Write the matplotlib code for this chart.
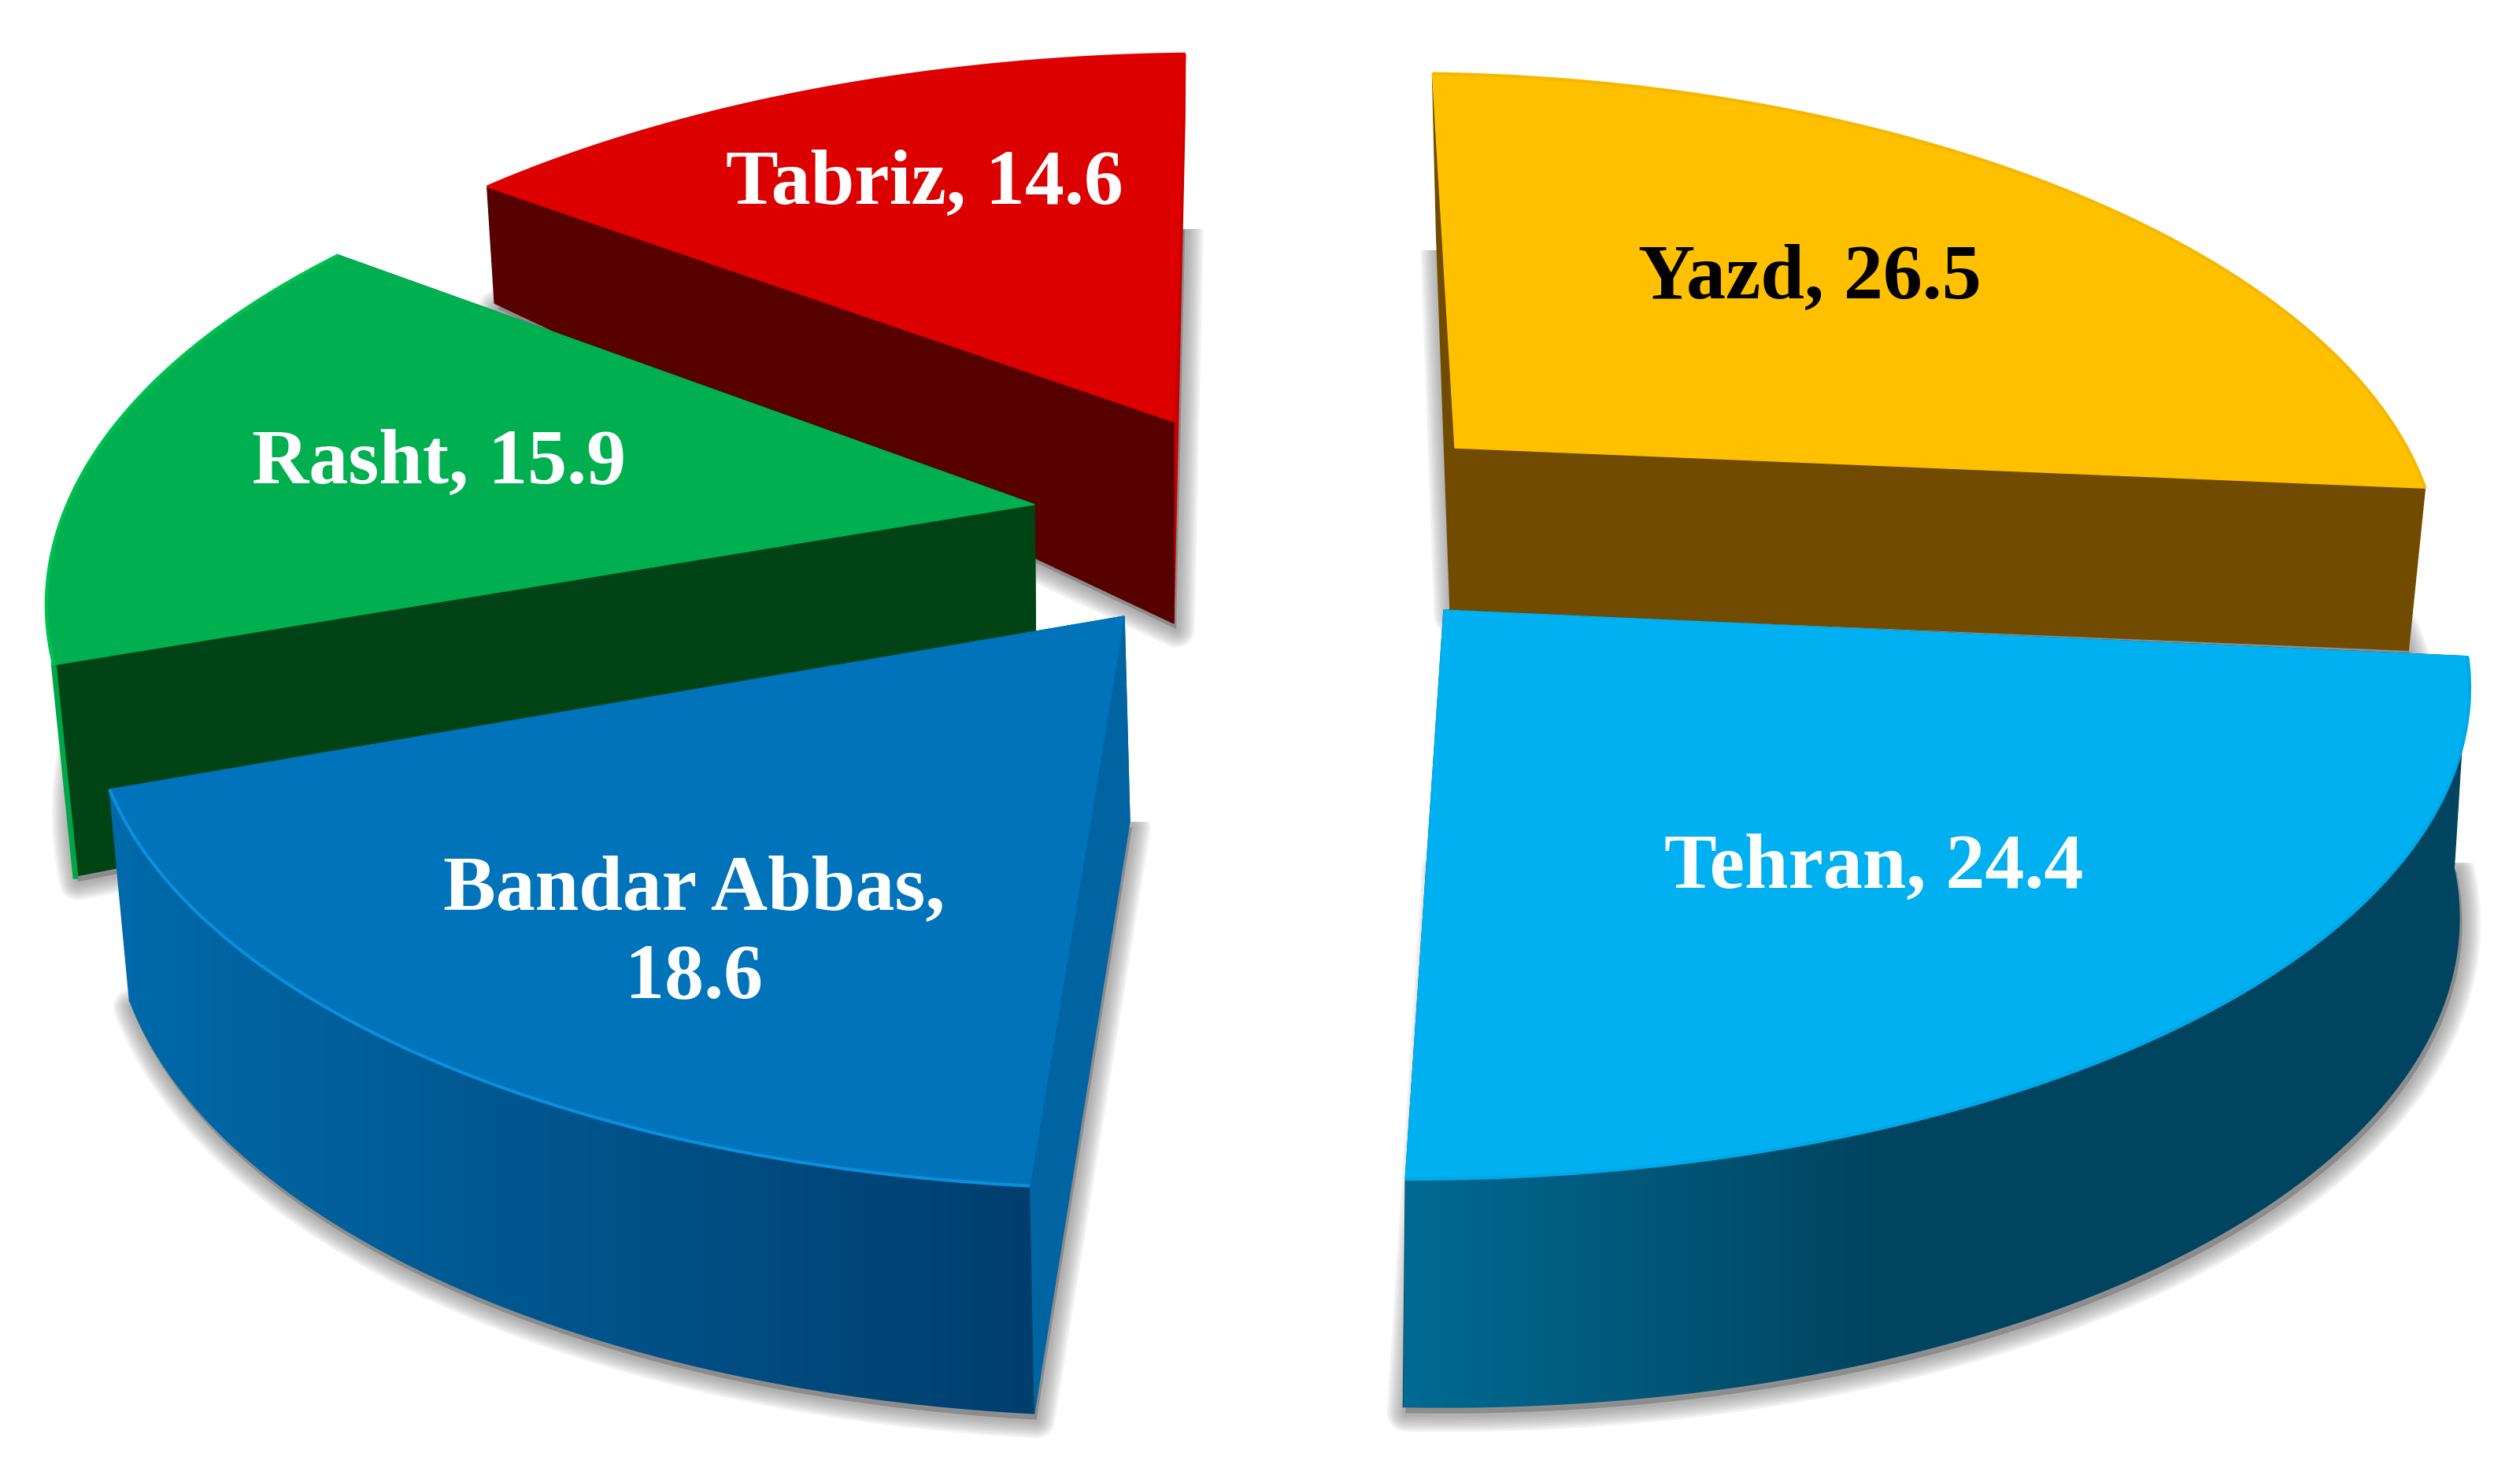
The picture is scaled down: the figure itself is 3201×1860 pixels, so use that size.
import numpy as np
import matplotlib
matplotlib.use("Agg")
import matplotlib.pyplot as plt
from matplotlib.colors import LinearSegmentedColormap
from matplotlib.patches import Polygon, Rectangle

# clockwise from the top
cities = ["Yazd", "Tehran", "Bandar Abbas", "Rasht", "Tabriz"]
values = [26.5, 24.4, 18.6, 15.9, 14.6]

start_angle = -1.0
radius_x = 1266.0
radius_y = 574.0
persp = 0.2075

# pixel layout of each slice: top apex, bottom apex
top_apex = [(1848, 569), (1834, 775), (1428, 783), (1314, 641), (1491, 536)]
bottom_apex = [(1842, 775), (1830, 1040), (1435, 1044), (1316, 875), (1491, 792)]
# sx, shear, ys, sy
top_tf = [(0.96, 0.023, 0.005, 1.0), (1.013, 0.02, 0.011, 1.0), (0.995, -0.08, 0.0, 1.0),
          (0.975, 0.0, 0.0134, 1.004), (0.985, -0.07, 0.0, 0.983)]
bottom_tf = [(0.949, 0.0, 0.005, 1.0), (1.003, 0.02, 0.011, 1.035), (0.98, -0.08, 0.0, 1.04),
             (0.955, 0.0, 0.0134, 1.16), (0.974, -0.05, 0.0, 1.34)]
top_flat = [0.95, 0.9, 0.9, 0.9, 0.97]
bottom_flat = [0.95, 0.95, 0.9, 0.9, 0.97]
rim_front = [False, True, True, False, False]
shadow_top = [318, 1096, 1044, 949, 291]

top_colors = ["#FFC000", "#00B0F0", "#0073BA", "#00B050", "#DC0000"]
edge_colors = ["#F5B800", "#00A8E8", "#0A8FDC", "#00C050", "#E00000"]
start_face = ["#704B00", "#004460", "#0064A2", "#004416", "#560000"]
end_face = ["#704B00", "#004460", "#0064A2", "#004416", "#C80000"]
side_edge = [None, None, None, "#00A546", None]
rim_stops = [("#C89600", "#8A6000"), ("#006A92", "#004460"), ("#006AAA", "#003E6E"),
             ("#00A546", "#00A546"), ("#C80000", "#C80000")]
rim_knee = [1.0, 0.45, 1.0, 1.0, 1.0]
text_colors = ["black", "white", "white", "white", "white"]
label_xy = [(2299, 379), (2380, 1128), (882, 1288), (558, 614), (1174, 259)]


def project(theta, apex, tf, flat):
    u = np.sin(theta)
    v = -np.cos(theta)
    s = 1.0 / (1.0 - persp * v)
    x = radius_x * u * s
    y = radius_y * v * s
    sx, shear, ys, sy = tf
    px = apex[0] + sx * x + shear * sy * y
    py = apex[1] + ys * x + sy * y
    # pull the arc a bit toward its chord, the corners stay put
    t = np.linspace(0, 1, len(theta))
    cx = px[0] + (px[-1] - px[0]) * t
    cy = py[0] + (py[-1] - py[0]) * t
    return cx + flat * (px - cx), cy + flat * (py - cy)


def draw_slice(ax, i, a0, a1):
    theta = np.radians(np.linspace(a0, a1, 240))
    tx, ty = project(theta, top_apex[i], top_tf[i], top_flat[i])
    bx, by = project(theta, bottom_apex[i], bottom_tf[i], bottom_flat[i])
    top_arc = np.column_stack([tx, ty])
    bot_arc = np.column_stack([bx, by])
    ta = np.array(top_apex[i], dtype=float)
    ba = np.array(bottom_apex[i], dtype=float)

    # soft shadow, the bottom face grown a little
    clip = Rectangle((0, shadow_top[i]), 3201, 1860, transform=ax.transData)
    shadow = np.vstack([ba, bot_arc]) + [3, 7]
    for lw in range(34, 2, -4):
        p = Polygon(shadow, closed=True, fc="#707070", ec="#707070", lw=lw, alpha=0.09, joinstyle="round")
        ax.add_patch(p)
        p.set_clip_path(clip)

    def add_faces():
        ax.add_patch(Polygon([ta, top_arc[-1], bot_arc[-1], ba], closed=True, fc=end_face[i], ec=end_face[i], lw=1))
        ax.add_patch(Polygon([ta, top_arc[0], bot_arc[0], ba], closed=True, fc=start_face[i], ec=start_face[i], lw=1))
        if side_edge[i]:
            ax.plot([top_arc[0][0], bot_arc[0][0]], [top_arc[0][1], bot_arc[0][1]],
                    color=side_edge[i], lw=5, zorder=1)

    if rim_front[i]:
        add_faces()

    # outer wall, shaded left to right
    rim = Polygon(np.vstack([top_arc, bot_arc[::-1]]), closed=True, fc="none", ec="none")
    ax.add_patch(rim)
    x0 = min(tx.min(), bx.min())
    x1 = max(tx.max(), bx.max())
    cmap = LinearSegmentedColormap.from_list(
        "rim", [(0, rim_stops[i][0]), (rim_knee[i], rim_stops[i][1]), (1, rim_stops[i][1])])
    # same zorder as the patches so the slices stack in drawing order
    im = ax.imshow(np.linspace(0, 1, 256).reshape(1, -1), cmap=cmap, aspect="auto",
                   extent=(x0, x1, 1860, 0), zorder=1)
    im.set_clip_path(rim)

    if not rim_front[i]:
        add_faces()

    ax.add_patch(Polygon(np.vstack([ta, top_arc]), closed=True, fc=top_colors[i], ec=top_colors[i], lw=1))
    ax.plot(tx, ty, color=edge_colors[i], lw=3, solid_capstyle="butt", zorder=1)


def main():
    fig = plt.figure(figsize=(32.01, 18.60), dpi=100)
    ax = fig.add_axes([0, 0, 1, 1])

    edges = start_angle + np.concatenate([[0], np.cumsum(values)]) * 360.0 / sum(values)

    # back slices first
    for i in [4, 3, 0, 1, 2]:
        draw_slice(ax, i, edges[i], edges[i + 1])

    for i, city in enumerate(cities):
        name = f"{city},\n{values[i]}" if city == "Bandar Abbas" else f"{city}, {values[i]}"
        ax.text(label_xy[i][0], label_xy[i][1], name, ha="center", va="bottom" if "\n" in name else "baseline",
                family="Liberation Serif", weight="bold", fontsize=72, color=text_colors[i],
                linespacing=1.3, zorder=5, multialignment="center")

    ax.set_xlim(0, 3201)
    ax.set_ylim(1860, 0)
    ax.axis("off")
    fig.savefig("out.png", dpi=100, facecolor="white")


if __name__ == "__main__":
    main()
